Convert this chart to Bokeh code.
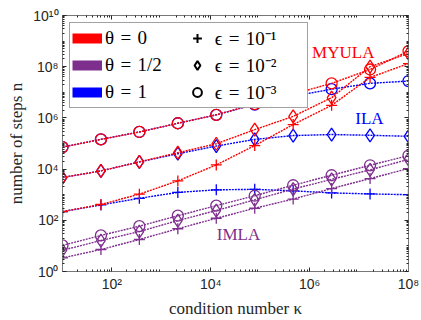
from bokeh.plotting import figure
from bokeh.models import LogAxis, FixedTicker, Legend, LegendItem, Label
from bokeh.embed import file_html
from bokeh.resources import INLINE

# condition numbers (x)
kappa = [1e1, 5.99e1, 3.59e2, 2.154e3, 1.2915e4, 7.7426e4, 4.6416e5, 2.7826e6, 1.6681e7, 1e8]

# MYULA (theta = 0)
myula_e1 = [219, 417, 1047, 3467, 1.45e4, 8.32e4, 5.50e5, 3.09e6, 3.80e7, 1.32e8]
myula_e2 = [4.68e3, 8.51e3, 1.91e4, 4.37e4, 9.77e4, 3.47e5, 1.15e6, 6.17e6, 1.0e8, 3.31e8]
myula_e3 = [7.24e4, 1.45e5, 2.82e5, 6.17e5, 1.32e6, 3.47e6, 8.51e6, 2.24e7, 7.76e7, 4.07e8]

# IMLA (theta = 1/2)
imla_e1 = [3.39, 7.24, 17.8, 46.8, 120, 295, 676, 1738, 4266, 1.05e4]
imla_e2 = [6.76, 16.2, 36.3, 97.7, 240, 631, 1660, 3981, 9333, 2.40e4]
imla_e3 = [10.5, 25.7, 58.9, 151, 372, 912, 2344, 5754, 1.41e4, 3.39e4]

# ILA (theta = 1)
ila_e1 = [219, 398, 724, 1230, 1549, 1622, 1413, 1175, 1072, 1000]
ila_e2 = [4.68e3, 8.51e3, 1.91e4, 3.98e4, 7.94e4, 1.45e5, 2.04e5, 2.24e5, 2.09e5, 1.91e5]
ila_e3 = [7.24e4, 1.45e5, 2.82e5, 6.17e5, 1.32e6, 3.31e6, 7.08e6, 1.32e7, 2.24e7, 2.75e7]

SP = "\u2004"
theta_labels = [f"θ{SP}={SP}0", f"θ{SP}={SP}1/2", f"θ{SP}={SP}1"]
eps_labels = [f"ϵ{SP}={SP}10⁻¹", f"ϵ{SP}={SP}10⁻²", f"ϵ{SP}={SP}10⁻³"]
x_tick_labels = {100: "10²", 10**4: "10⁴", 10**6: "10⁶", 10**8: "10⁸"}
y_tick_labels = {1: "10⁰", 100: "10²", 10**4: "10⁴", 10**6: "10⁶", 10**8: "10⁸", 10**10: "10¹⁰"}

RED = "#FF0000"
PURPLE = "#7E2F8E"
BLUE = "#0000FF"
AX = "#262626"

p = figure(width=421, height=320, x_axis_type="log", y_axis_type="log",
           x_range=(1e1, 1e8), y_range=(1e0, 1e10),
           output_backend="svg", toolbar_location=None,
           min_border_left=62, min_border_right=13, min_border_top=15, min_border_bottom=47)
p.xgrid.visible = False
p.ygrid.visible = False
p.outline_line_color = "#777777"
p.background_fill_color = "white"

minor_x = [k * 10.0**n for n in range(1, 8) for k in range(2, 10)]
minor_y = [k * 10.0**n for n in range(0, 10) for k in range(2, 10)] + [10.0**n for n in (1, 3, 5, 7, 9)]

def style_axis(ax, ticks, minor, labels, show_labels=True):
    ax.ticker = FixedTicker(ticks=list(ticks), minor_ticks=minor)
    ax.major_tick_in = 4
    ax.major_tick_out = 0
    ax.minor_tick_in = 2
    ax.minor_tick_out = 0
    ax.axis_line_color = "#777777"
    ax.major_tick_line_color = AX
    ax.minor_tick_line_color = AX
    if show_labels:
        ax.major_label_overrides = labels
        ax.major_label_text_font = "Liberation Sans"
        ax.major_label_text_font_size = "14px"
        ax.major_label_text_color = AX
        ax.major_label_standoff = 4
    else:
        ax.major_label_overrides = {k: " " for k in labels}
        ax.major_label_text_font_size = "2px"
        ax.major_label_text_alpha = 0
        ax.major_label_standoff = 0

xt = list(x_tick_labels.keys())
yt = list(y_tick_labels.keys())
style_axis(p.xaxis[0], xt, minor_x, x_tick_labels)
style_axis(p.yaxis[0], yt, minor_y, y_tick_labels)
p.xaxis[0].axis_label = "condition number κ"
p.yaxis[0].axis_label = "number of steps n"
for ax in (p.xaxis[0], p.yaxis[0]):
    ax.axis_label_text_font = "Liberation Serif"
    ax.axis_label_text_font_size = "17px"
    ax.axis_label_text_font_style = "normal"
    ax.axis_label_text_color = AX
    ax.axis_label_standoff = 4

top = LogAxis()
style_axis(top, xt, minor_x, x_tick_labels, show_labels=False)
p.add_layout(top, "above")
right = LogAxis()
style_axis(right, yt, minor_y, y_tick_labels, show_labels=False)
p.add_layout(right, "right")

DASH = "2 1"
markers = ["cross", "diamond", "circle"]

def series(ys, color, marker):
    p.line(kappa, ys, line_color=color, line_width=1.4, line_dash=DASH)
    p.scatter(kappa, ys, marker=marker, size=11 if marker != "diamond" else 13,
              line_color=color, fill_color=None, line_width=1.3)

for ys, m in zip([ila_e1, ila_e2, ila_e3], markers):
    series(ys, BLUE, m)
for ys, m in zip([imla_e1, imla_e2, imla_e3], markers):
    series(ys, PURPLE, m)
for ys, m in zip([myula_e1, myula_e2, myula_e3], markers):
    series(ys, RED, m)

# legend dummy renderers
theta_r = [p.line([1], [1], line_color=c, line_width=10, visible=False) for c in (RED, PURPLE, BLUE)]
eps_r = [p.scatter([1], [1], marker=m, size=9 if m != "diamond" else 11,
                   line_color="black", fill_color=None, line_width=2, visible=False) for m in markers]
PAD1 = "\u2003"
PAD2 = "\u2003\u2002"
items = [LegendItem(label=l + PAD1, renderers=[r]) for l, r in zip(theta_labels, theta_r)] + \
        [LegendItem(label=l + PAD2, renderers=[r]) for l, r in zip(eps_labels, eps_r)]
legend = Legend(items=items, location="top_left", ncols=2, orientation="vertical",
                margin=7, padding=2, spacing=1, label_height=22, glyph_height=22,
                glyph_width=30, label_standoff=3,
                border_line_color="#444444",
                border_line_width=1, background_fill_alpha=1.0,
                inactive_fill_alpha=0.0)
legend.label_text_font = "Liberation Serif"
legend.label_text_font_size = "19px"
legend.label_text_color = "black"
p.add_layout(legend, "center")

for txt, x, y, c in [("MYULA", 10**6.68, 10**8.57, RED), ("ILA", 10**7.21, 10**5.97, BLUE),
                     ("IMLA", 10**4.56, 10**1.43, PURPLE)]:
    p.add_layout(Label(x=x, y=y, text=txt, text_align="center", text_baseline="middle",
                       text_color=c, text_font="Liberation Serif", text_font_size="17px"))

open("out.html", "w").write(file_html(p, INLINE))
